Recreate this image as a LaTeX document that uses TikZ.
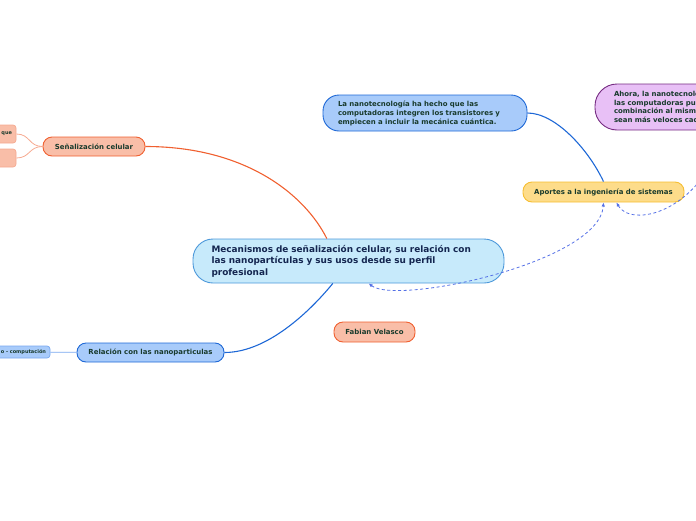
\documentclass[tikz,border=0pt]{standalone}
\usepackage{fontspec}
\setmainfont{DejaVu Sans}
\usetikzlibrary{arrows.meta}
\definecolor{inktext}{RGB}{24,58,44}
\definecolor{navytext}{RGB}{20,38,80}
\definecolor{salmonfill}{RGB}{249,190,168}
\definecolor{salmonline}{RGB}{240,96,48}
\definecolor{salmonpale}{RGB}{246,170,145}
\definecolor{bluefill}{RGB}{168,203,250}
\definecolor{blueline}{RGB}{30,104,214}
\definecolor{bluepale}{RGB}{120,168,240}
\definecolor{skyfill}{RGB}{199,234,251}
\definecolor{skyline}{RGB}{76,152,218}
\definecolor{yellowfill}{RGB}{253,220,138}
\definecolor{yellowline}{RGB}{246,190,50}
\definecolor{lilacfill}{RGB}{232,192,246}
\definecolor{lilacline}{RGB}{118,44,130}
\definecolor{dashblue}{RGB}{84,112,230}

\begin{document}
\begin{tikzpicture}[x=1pt, y=-1pt, font=\fontsize{6.95}{9}\selectfont\bfseries,
  topic/.style={draw, line width=0.9pt, rounded corners=9pt, text=inktext, inner sep=0pt, minimum height=19pt},
  leaf/.style={draw, line width=0.7pt, rounded corners=3pt, text=inktext, inner sep=2pt, align=right, font=\fontsize{5}{6}\selectfont\bfseries},
  link/.style={line width=1.1pt},
  crosslink/.style={dashblue, line width=0.8pt, dash pattern=on 3pt off 2.5pt, {Latex[length=4pt,width=3.5pt]}-{Latex[length=4pt,width=3.5pt]}}]
  \useasboundingbox (0,0) rectangle (696,520);
  \clip (0,0) rectangle (696,520);

  % central topic
  \node[draw=skyline, fill=skyfill, line width=0.9pt, rounded corners=20pt, minimum width=311pt, minimum height=44pt,
        text width=274pt, align=left, text=navytext, font=\fontsize{8.9}{11.5}\selectfont\bfseries] (central) at (348.5,261)
    {Mecanismos de señalización celular, su relación con\\ las nanopartículas y sus usos desde su perfil\\ profesional};

  % main branches
  \node[topic, draw=salmonline, fill=salmonfill, minimum width=102pt] (senal) at (94,146.5) {Señalización celular};
  \node[topic, draw=blueline, fill=bluefill, minimum width=147pt] (relacion) at (150.5,352.5) {Relación con las nanoparticulas};
  \node[topic, draw=yellowline, fill=yellowfill, minimum width=161pt, minimum height=20pt] (aportes) at (603.5,192) {Aportes a la ingeniería de sistemas};
  \node[topic, draw=salmonline, fill=salmonfill, minimum width=81pt, minimum height=20pt] (autor) at (374.5,332) {Fabian Velasco};

  % sub topics
  \node[topic, draw=blueline, fill=bluefill, rounded corners=16pt, minimum width=204pt, minimum height=36pt,
        text width=174pt, align=left] (nanotec) at (425,113)
    {La nanotecnología ha hecho que las\\ computadoras integren los transistores y\\ empiecen a incluir la mecánica cuántica.};
  \node[topic, draw=lilacline, fill=lilacfill, rounded corners=22pt, minimum width=200pt, minimum height=46pt,
        text width=162pt, align=left, font=\fontsize{6.95}{8.7}\selectfont\bfseries] (ahora) at (695,107)
    {Ahora, la nanotecnolo\\ las computadoras pu\\ combinación al mism\\ sean más veloces cad};

  % leaves of Señalización celular: name, y, text
  \foreach \n/\y/\t in {leafa/134/que, leafb/158/{}} {
    \node[leaf, draw=salmonpale, fill=salmonfill, minimum width=46pt, minimum height=18pt, text width=38pt] (\n) at (-7,\y) {\t};
    \draw[salmonpale, line width=0.8pt] (senal.west) .. controls +(-14,0) and +(14,0) .. (\n.east);
  }
  \node[leaf, draw=bluepale, fill=bluefill, minimum width=90pt, minimum height=12pt, text width=82pt] (compu) at (5,352) {o - computación};
  \draw[bluepale, line width=0.8pt] (compu) -- (relacion);

  % connectors
  \draw[link, salmonline] (senal.east) .. controls +(100,0) and +(-22,-44) .. (central.134);
  \draw[link, blueline] (relacion.east) .. controls +(46,0) and +(-18,22) .. (central.235);
  \draw[link, blueline] (nanotec.east) .. controls +(28,0) and +(-15,-32) .. (aportes.north);

  % dashed relations
  \draw[crosslink] (central.312) .. controls +(28,22) and +(-4,60) .. (aportes.south);
  \draw[crosslink, {Latex[length=4pt,width=3.5pt]}-] (aportes.321) .. controls +(14,25) and +(-27,85) .. (ahora.323);
\end{tikzpicture}
\end{document}
